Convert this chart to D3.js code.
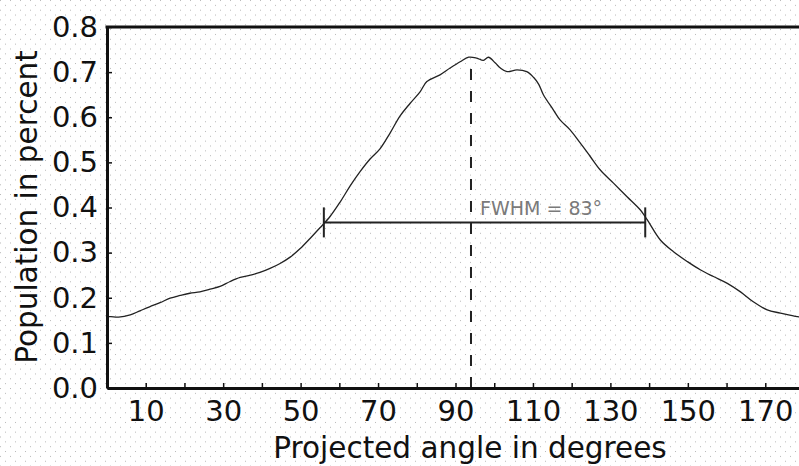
<!DOCTYPE html>
<html>
<head>
<meta charset="utf-8">
<script src="https://cdn.jsdelivr.net/npm/d3@7"></script>
<style>
  body { margin: 0; background: #fff; }
  svg { display: block; }
</style>
</head>
<body>
<div id="chart"></div>
<script>
// angle (degrees) and population (percent)
const angles = [0, 1, 3, 6, 8.5, 11, 13.7, 16.3, 18.9, 21.4, 24, 26.6, 29.2, 31.8, 34.4, 37, 39.5, 42.1, 44.7, 47.3,
    49.9, 52.5, 55, 57.6, 60.2, 62.8, 65.4, 68, 70.5, 73.1, 75.7, 78.3, 80.9, 82.6, 86, 88.6, 91.2, 93.4, 95.5,
    97.2, 98.5, 100.3, 101.6, 103.3, 105.9, 108.4, 110.2, 111.5, 112.7, 115.3, 117, 119.6, 122.2, 124.8, 127.4,
    130.8, 134.3, 137.7, 139.5, 142.9, 146.3, 149.9, 153.2, 156.6, 160.2, 163.6, 166.9, 170.5, 173.9, 178.3, 180];
const population = [0.158, 0.158, 0.157, 0.162, 0.171, 0.180, 0.189, 0.199, 0.205, 0.210, 0.213, 0.219, 0.225, 0.236,
    0.245, 0.250, 0.256, 0.265, 0.276, 0.290, 0.309, 0.332, 0.355, 0.380, 0.412, 0.448, 0.480, 0.508, 0.530, 0.565,
    0.603, 0.631, 0.657, 0.679, 0.694, 0.709, 0.723, 0.733, 0.731, 0.726, 0.733, 0.720, 0.709, 0.701, 0.705, 0.701,
    0.688, 0.673, 0.650, 0.616, 0.594, 0.572, 0.543, 0.513, 0.483, 0.454, 0.424, 0.395, 0.373, 0.328, 0.302, 0.280,
    0.262, 0.247, 0.232, 0.213, 0.191, 0.173, 0.166, 0.158, 0.157];

const xTicks = [10, 20, 30, 40, 50, 60, 70, 80, 90, 100, 110, 120, 130, 140, 150, 160, 170];
const yTicks = [0, 0.1, 0.2, 0.3, 0.4, 0.5, 0.6, 0.7, 0.8];

const peakAngle = 94;
const fwhmStart = 56;
const fwhmEnd = 139;
const halfMax = 0.367;
const fwhmLabel = "FWHM = 83°";

const width = 799, height = 466;
const margin = { top: 27, left: 107, bottom: 78 };
const font = "DejaVu Sans";

const svg = d3.select("#chart").append("svg")
    .attr("width", width)
    .attr("height", height)
    .attr("font-family", font);

// faint halftone dots of the scanned figure
const pat = svg.append("defs").append("pattern")
    .attr("id", "dots")
    .attr("patternUnits", "userSpaceOnUse")
    .attr("width", 10).attr("height", 9.7);
pat.append("rect").attr("x", 0).attr("y", 0).attr("width", 1).attr("height", 1).attr("fill", "#b8b8b8");
pat.append("rect").attr("x", 5).attr("y", 4.85).attr("width", 1).attr("height", 1).attr("fill", "#b8b8b8");
svg.append("rect").attr("width", width).attr("height", height).attr("fill", "url(#dots)");

const x = d3.scaleLinear().domain([0, 180]).range([margin.left, 804]);
const y = d3.scaleLinear().domain([0, 0.8]).range([height - margin.bottom, margin.top]);

// curve
const line = d3.line()
    .x((d, i) => x(angles[i]))
    .y(d => y(d))
    .curve(d3.curveCatmullRom);

svg.append("path")
    .datum(population)
    .attr("fill", "none")
    .attr("stroke", "#222")
    .attr("stroke-width", 1.3)
    .attr("d", line);

// dashed line at the peak
svg.append("line")
    .attr("x1", x(peakAngle)).attr("x2", x(peakAngle))
    .attr("y1", y(0)).attr("y2", y(0.73))
    .attr("stroke", "#222")
    .attr("stroke-width", 2)
    .attr("stroke-dasharray", "11,11");

// FWHM bar
const fw = svg.append("g").attr("stroke", "#222").attr("stroke-width", 2);
fw.append("line")
    .attr("x1", x(fwhmStart)).attr("x2", x(fwhmEnd))
    .attr("y1", y(halfMax)).attr("y2", y(halfMax));
[fwhmStart, fwhmEnd].forEach(a => {
    fw.append("line")
        .attr("x1", x(a)).attr("x2", x(a))
        .attr("y1", y(halfMax) - 15).attr("y2", y(halfMax) + 15);
});
svg.append("text")
    .attr("x", x(peakAngle) + 9)
    .attr("y", y(halfMax) - 7)
    .attr("font-size", 19)
    .attr("fill", "#7a7a7a")
    .text(fwhmLabel);

// axes
const xAxis = d3.axisBottom(x)
    .tickValues(xTicks)
    .tickSizeInner(-5)
    .tickSizeOuter(0)
    .tickPadding(12)
    .tickFormat(d => (d / 10) % 2 === 1 ? d : "");

const yAxis = d3.axisLeft(y)
    .tickValues(yTicks)
    .tickSizeInner(-5)
    .tickSizeOuter(0)
    .tickPadding(9)
    .tickFormat(d3.format(".1f"));

const gx = svg.append("g")
    .attr("transform", `translate(0,${y(0)})`)
    .call(xAxis);
const gy = svg.append("g")
    .attr("transform", `translate(${margin.left},0)`)
    .call(yAxis);

[gx, gy].forEach(g => {
    g.select(".domain").attr("stroke", "#111").attr("stroke-width", 3);
    g.selectAll(".tick line").attr("stroke", "#111").attr("stroke-width", 1.5);
    g.selectAll(".tick text").attr("font-size", 29).attr("font-family", font).attr("fill", "#111");
});

// top frame
svg.append("line")
    .attr("x1", margin.left - 1.5).attr("x2", width)
    .attr("y1", y(0.8)).attr("y2", y(0.8))
    .attr("stroke", "#111").attr("stroke-width", 3);

// axis titles
svg.append("text")
    .attr("x", 470)
    .attr("y", 458)
    .attr("text-anchor", "middle")
    .attr("font-size", 29.5)
    .attr("fill", "#111")
    .text("Projected angle in degrees");

svg.append("text")
    .attr("transform", "translate(37,207) rotate(-90)")
    .attr("text-anchor", "middle")
    .attr("font-size", 29.5)
    .attr("fill", "#111")
    .text("Population in percent");
</script>
</body>
</html>
